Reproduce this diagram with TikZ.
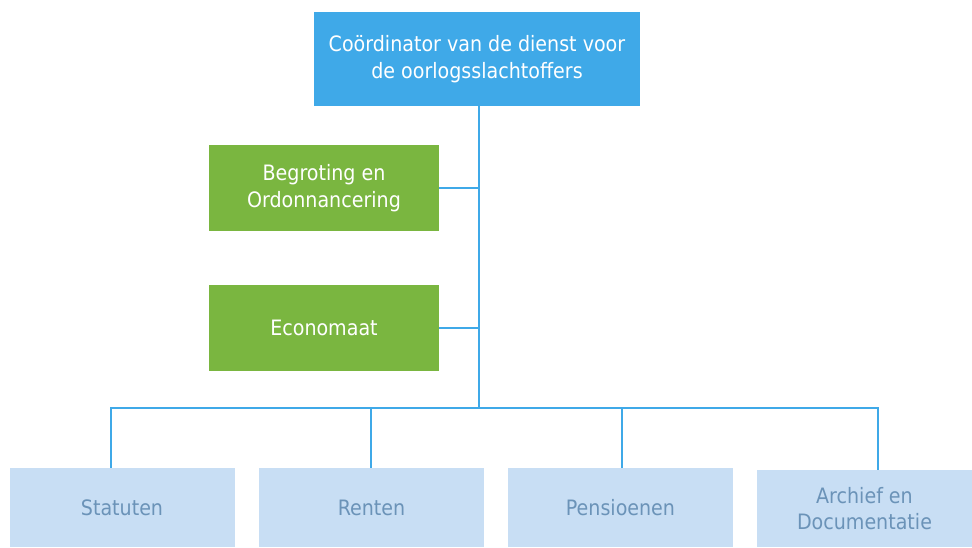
\documentclass[tikz,border=0pt]{standalone}
\usepackage{fontspec}
\setmainfont{DejaVu Sans Condensed}
\definecolor{topblue}{HTML}{3FA9E8}
\definecolor{green}{HTML}{7AB640}
\definecolor{light}{HTML}{C8DEF4}
\definecolor{ltext}{HTML}{6B93B8}
\begin{document}
\begin{tikzpicture}[x=1pt,y=-1pt,
  box/.style={rectangle,inner sep=0pt,align=center,font=\fontsize{21.2}{26.5}\selectfont},
  topbox/.style={box,fill=topblue,text=white,minimum width=326pt,minimum height=94pt},
  greenbox/.style={box,fill=green,text=white,minimum width=230pt,minimum height=86pt},
  lightbox/.style={box,fill=light,text=ltext,minimum width=225pt,minimum height=79pt},
  conn/.style={draw=topblue,line width=2.5pt}]
\useasboundingbox (0,0) rectangle (972,547);
\node[topbox] (top) at (477,59) {Coördinator van de dienst voor\\de oorlogsslachtoffers};
\node[greenbox] (g1) at (324,188) {Begroting en\\Ordonnancering};
\node[greenbox] (g2) at (324,328) {Economaat};
\node[lightbox] (s1) at (122,507.5) {Statuten};
\node[lightbox] (s2) at (371.5,507.5) {Renten};
\node[lightbox] (s3) at (620.5,507.5) {Pensioenen};
\node[lightbox,minimum width=215pt,minimum height=77pt] (s4) at (864.5,508.5) {Archief en\\Documentatie};
\coordinate (trunk) at (479,408);
\coordinate (d1) at (111,408);
\coordinate (d2) at (371,408);
\coordinate (d3) at (622,408);
\coordinate (d4) at (878,408);
\draw[conn] (top.south -| trunk) -- (trunk);
\draw[conn] (g1.east) -- (g1.east -| trunk);
\draw[conn] (g2.east) -- (g2.east -| trunk);
\draw[conn] (d1 |- s1.north) -- (d1) -- (d4) -- (d4 |- s4.north);
\draw[conn] (d2) -- (d2 |- s2.north);
\draw[conn] (d3) -- (d3 |- s3.north);
\end{tikzpicture}
\end{document}
